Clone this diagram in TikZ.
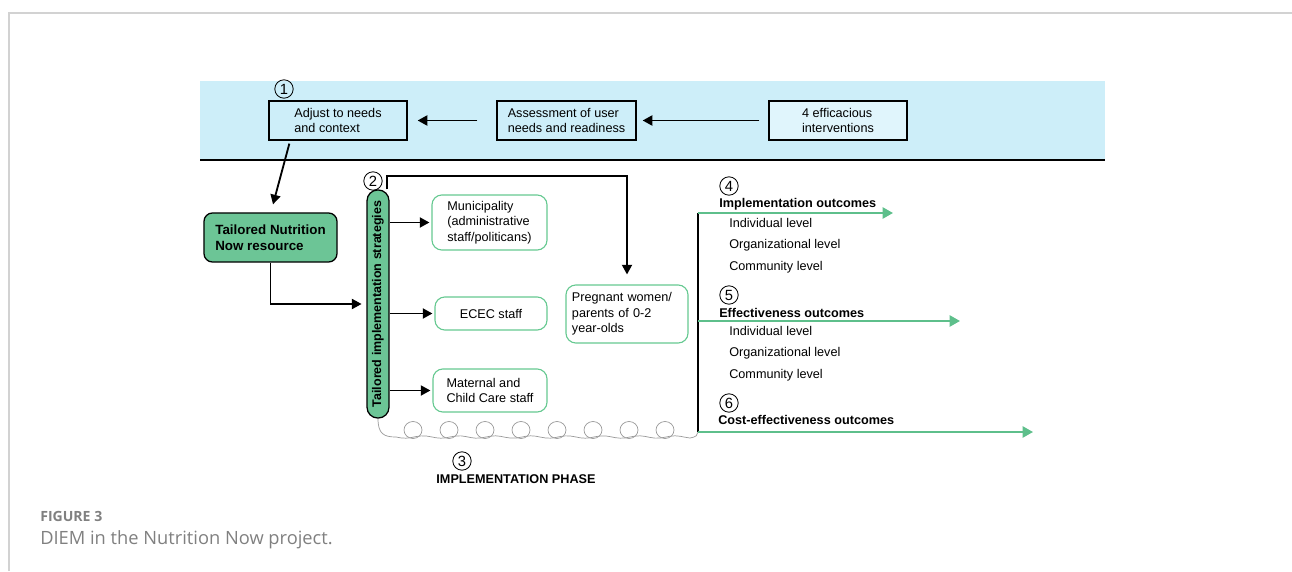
\documentclass[tikz,border=0pt]{standalone}
\usepackage{fontspec}
\setmainfont{Liberation Sans}
\newfontfamily\capfont{Open Sans}
\usepackage{tikz}
\usetikzlibrary{arrows.meta,positioning,calc}
\definecolor{bandblue}{HTML}{CDEEF9}
\definecolor{boxblue}{HTML}{E0F5FC}
\definecolor{nngreen}{HTML}{6CC596}
\definecolor{edgegreen}{HTML}{66C991}
\definecolor{outgreen}{HTML}{5EBF8B}
\definecolor{framegrey}{HTML}{D2D2D2}
\definecolor{capgrey}{HTML}{808080}
\tikzset{
  sbox/.style={draw=black, line width=0.9pt, align=left, inner sep=2pt},
  gbox/.style={rounded corners=6pt, draw=black, line width=0.9pt, fill=nngreen,
               align=left, font=\bfseries\fontsize{9.5}{11.5}\selectfont},
  tbox/.style={rounded corners=7pt, draw=edgegreen, line width=0.8pt,
               fill=white, align=left},
  num/.style={circle, draw=black, line width=0.6pt, minimum size=4.6mm,
              inner sep=0pt, font=\fontsize{10.5}{12}\selectfont},
  flow/.style={-{Triangle[length=2.4mm,width=2.5mm]}, line width=1.3pt},
  gflow/.style={-{Triangle[length=2.6mm,width=2.8mm]}, line width=1.4pt,
                draw=outgreen},
  head/.style={anchor=west, inner sep=0pt,
               font=\bfseries\fontsize{9}{11}\selectfont},
  lvl/.style={anchor=west, inner sep=0pt},
  coil/.style={draw=gray!80, line width=0.5pt},
}

\begin{document}
\begin{tikzpicture}[x=0.025cm, y=-0.025cm, font=\fontsize{9}{11}\selectfont]
\useasboundingbox (0,0) rectangle (1292,571);

% ---------------- frame and band -----------------------------------------
\draw[framegrey, line width=0.8pt] (9,571) -- (9,13) -- (1292,13);
\fill[bandblue] (200,81) rectangle (1105,160);
\draw[line width=1.6pt] (200,160) -- (1105,160);

% ---------------- adaptation ---------------------------------------------
\node[sbox, minimum width=3.45cm, minimum height=0.975cm]
   at (338,120.5) (adjust) {Adjust to needs\\and context};
\node[sbox, minimum width=3.475cm, minimum height=0.975cm]
   at (566.5,120.5) (assess) {Assessment of user\\needs and readiness};
\node[sbox, fill=boxblue, minimum width=3.45cm, minimum height=0.975cm]
   at (838,120.5) (interv) {4 efficacious\\interventions};
\node[num] at (284,89) (n1) {1};
\draw[flow, shorten <=0.475cm, shorten >=0.25cm] (assess) -- (adjust);
\draw[flow, shorten <=0.225cm, shorten >=0.15cm] (interv) -- (assess);

% ---------------- resource and strategies --------------------------------
\node[gbox, minimum width=3.325cm, minimum height=1.225cm]
   at (270.5,237.5) (tnn) {Tailored Nutrition\\Now resource};
\draw[flow] ($(adjust.south west)+(21,3)$) -- ($(tnn.north)+(2.5,-8)$);

\node[draw=black, line width=0.9pt, fill=nngreen, rounded corners=0.27cm,
      rotate=90, minimum width=5.7cm, minimum height=0.55cm, inner sep=0pt,
      font=\bfseries\fontsize{8.9}{10}\selectfont]
   at (378,304) (pill) {Tailored implementation strategies};
\node[num] at (373,181) (n2) {2};
\draw[flow, shorten >=0.12cm] (tnn.south) |- (pill.north);

\node[tbox, minimum width=2.875cm, minimum height=1.375cm]
   at (489.5,222.5) (muni) {Municipality\\(administrative\\staff/politicans)};
\node[tbox, align=center, minimum width=2.8cm, minimum height=0.825cm]
   at (491,313.5) (ecec) {ECEC staff};
\node[tbox, minimum width=2.85cm, minimum height=1.075cm]
   at (490,390.5) (mat) {Maternal and\\Child Care staff};
\node[tbox, text width=2.75cm, minimum width=3.05cm, minimum height=1.45cm]
   at (627,314) (preg) {Pregnant women/\\parents of 0-2\\year-olds};

\draw[flow, shorten >=0.05cm] (pill.south |- muni) -- (muni.west);
\draw[flow, shorten >=0.05cm] (pill.south |- ecec) -- (ecec.west);
\draw[flow, shorten >=0.05cm] (pill.south |- mat) -- (mat.west);
\draw[flow, shorten >=0.25cm] ([xshift=-0.06cm]pill.south east)
   -- ++(0,-13) -| (preg.north);

% ---------------- implementation phase -----------------------------------
\coordinate (outtop) at (698,213);
\coordinate (outmid) at (698,321);
\coordinate (outbot) at (698,432);
\foreach \i in {0,...,7}
  \draw[coil] ({413+36*\i},430) circle [x radius=9, y radius=8.5];
\draw[coil] (pill.west) .. controls (378,434) and (384,437) .. (396,437)
   -- plot[domain=396:690, samples=60] (\x,{437+1.2*sin(10*(\x-396))})
   .. controls (696,437) and (698,435) .. (outbot);
\node[num] at (462,461) (n3) {3};
\node[font=\bfseries\fontsize{9}{11}\selectfont] at (516,479) (phase)
   {IMPLEMENTATION PHASE};

% ---------------- outcomes -----------------------------------------------
\coordinate (impend) at (893,213);
\coordinate (effend) at (960,321);
\coordinate (costend) at (1033,432);
\draw[line width=0.8pt] (outtop) -- (outbot);
\draw[gflow] (outtop) -- (impend);
\draw[gflow] (outmid) -- (effend);
\draw[gflow] (outbot) -- (costend);

\node[num] at (729,186) (n4) {4};
\node[head] at (719,204) (imp) {Implementation outcomes};
\node[lvl] at (729,223) (imp1) {Individual level};
\node[lvl] at (729,245) (imp2) {Organizational level};
\node[lvl] at (729,267) (imp3) {Community level};

\node[num] at (729,295) (n5) {5};
\node[head] at (719,313) (eff) {Effectiveness outcomes};
\node[lvl] at (729,331) (eff1) {Individual level};
\node[lvl] at (729,353) (eff2) {Organizational level};
\node[lvl] at (729,375) (eff3) {Community level};

\node[num] at (729,403) (n6) {6};
\node[head] at (718,420) (cost) {Cost-effectiveness outcomes};

% ---------------- caption ------------------------------------------------
\node[anchor=west, inner sep=0pt, text=capgrey,
      font=\capfont\bfseries\fontsize{10}{12}\selectfont]
   at (40,516) (fig) {FIGURE 3};
\node[anchor=west, inner sep=0pt, text=capgrey,
      font=\capfont\fontsize{13}{15}\selectfont]
   at (40,540) (cap) {DIEM in the Nutrition Now project.};
\end{tikzpicture}
\end{document}
